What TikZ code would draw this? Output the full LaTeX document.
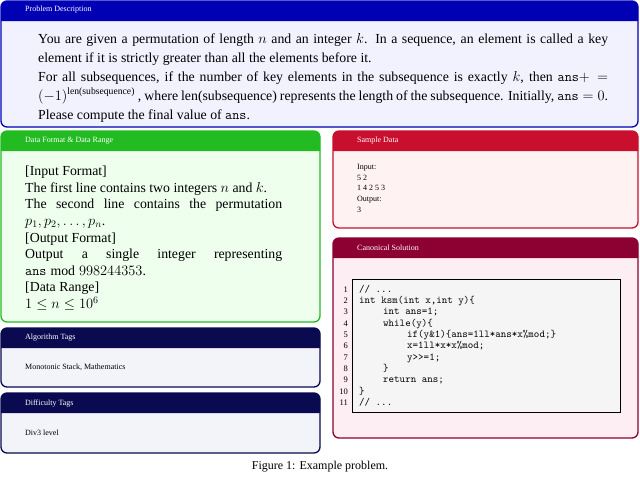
\documentclass[tikz,border=0pt]{standalone}
\usepackage{fontspec}
\setmainfont{Liberation Serif}
\usepackage{amsmath}
\definecolor{pblue}{HTML}{0000B4}
\definecolor{pbody}{HTML}{F2F2FF}
\definecolor{ggreen}{HTML}{22BB22}
\definecolor{gbody}{HTML}{EEFFEE}
\definecolor{navy}{HTML}{0A0A50}
\definecolor{nbody}{HTML}{F3F3FA}
\definecolor{rred}{HTML}{C8102E}
\definecolor{rbody}{HTML}{FFF2F2}
\definecolor{wine}{HTML}{8C0032}
\definecolor{wbody}{HTML}{FCEEF2}
\newcommand{\pbox}[6]{%
 \draw[rounded corners=6pt,fill=#6,draw=#5,line width=1.3pt] (#1,#2) rectangle (#3,#4);
 \fill[#5] (#1,{#2+20}) [rounded corners=6pt] -- (#1,#2) -- (#3,#2) [sharp corners] -- (#3,{#2+20}) -- cycle;}
\tikzset{ttl/.style={anchor=west,text=white,font=\fontsize{8}{9}\selectfont,inner sep=0pt},
 code/.style={anchor=base west,inner sep=0pt,font=\ttfamily\fontsize{10.5}{11}\selectfont},
 num/.style={anchor=base east,inner sep=0pt,font=\fontsize{8.5}{9}\selectfont}}
\begin{document}
\begin{tikzpicture}[x=1pt,y=-1pt]
\useasboundingbox (0,0) rectangle (640,480);
\pbox{1}{1}{638}{127}{pblue}{pbody}
\node[ttl] (t1) at (25,10) {Problem Description};
\node[anchor=north west,inner sep=0pt,text width=570pt,align=justify,font=\fontsize{13.8}{19}\selectfont] (p1) at (38,33)
{You are given a permutation of length $n$ and an integer $k$. In a sequence, an element is called a key element if it is strictly greater than all the elements before it.\\
For all subsequences, if the number of key elements in the subsequence is exactly $k$, then $\mathtt{ans}+=$ $(-1)^{\text{len(subsequence)}}$ , where len(subsequence) represents the length of the subsequence. Initially, $\mathtt{ans}=0$.\\
Please compute the final value of $\mathtt{ans}$.};

\pbox{1}{131}{320}{322}{ggreen}{gbody}
\node[ttl] (t2) at (25,141) {Data Format \& Data Range};
\node[anchor=north west,inner sep=0pt,text width=257pt,align=justify,font=\fontsize{13.8}{16.6}\selectfont] (p2) at (25,166)
{[Input Format]\\
The first line contains two integers $n$ and $k$.\\ The second line contains the permutation $p_1,p_2,\ldots,p_n$.\\
{}[Output Format]\\
Output a single integer representing\linebreak $\mathtt{ans}\bmod 998244353$.\\
{}[Data Range]\\
$1\le n\le 10^6$};

\pbox{1}{328}{320}{387}{navy}{nbody}
\node[ttl] (t3) at (25,338) {Algorithm Tags};
\node[anchor=west,inner sep=0pt,font=\fontsize{8}{9}\selectfont] (p3) at (25,367) {Monotonic Stack, Mathematics};

\pbox{1}{393}{320}{453}{navy}{nbody}
\node[ttl] (t4) at (25,404) {Difficulty Tags};
\node[anchor=west,inner sep=0pt,font=\fontsize{8}{9}\selectfont] (p4) at (25,433) {Div3 level};

\pbox{333}{131}{638}{228}{rred}{rbody}
\node[ttl] (t5) at (357,141) {Sample Data};
\node[anchor=north west,inner sep=0pt,align=left,font=\fontsize{8}{10.7}\selectfont] (p5) at (357,164)
{Input:\\5 2\\1 4 2 5 3\\Output:\\3};

\pbox{333}{238}{638}{438}{wine}{wbody}
\node[ttl] (t6) at (357,248) {Canonical Solution};
\draw[fill=black!4,line width=0.8pt] (352,279) rectangle (620,412);
\foreach \i/\ind/\txt in {1/0/{// ...},2/0/{int ksm(int x,int y)\{},3/1/{int ans=1;},4/1/{while(y)\{},5/2/{if(y\&1)\{ans=1ll*ans*x\%mod;\}},6/2/{x=1ll*x*x\%mod;},7/2/{y>{}>=1;},8/1/{\}},9/1/{return ans;},10/0/{\}},11/0/{// ...}}{
 \node[num] (n\i) at (348,{281+\i*11.3}) {\i};
 \node[code] (c\i) at ({359+\ind*24},{281+\i*11.3}) {\txt};
}
\node[font=\fontsize{12}{13}\selectfont,inner sep=0pt] (cap) at (320,467) {Figure 1: Example problem.};
\end{tikzpicture}
\end{document}
